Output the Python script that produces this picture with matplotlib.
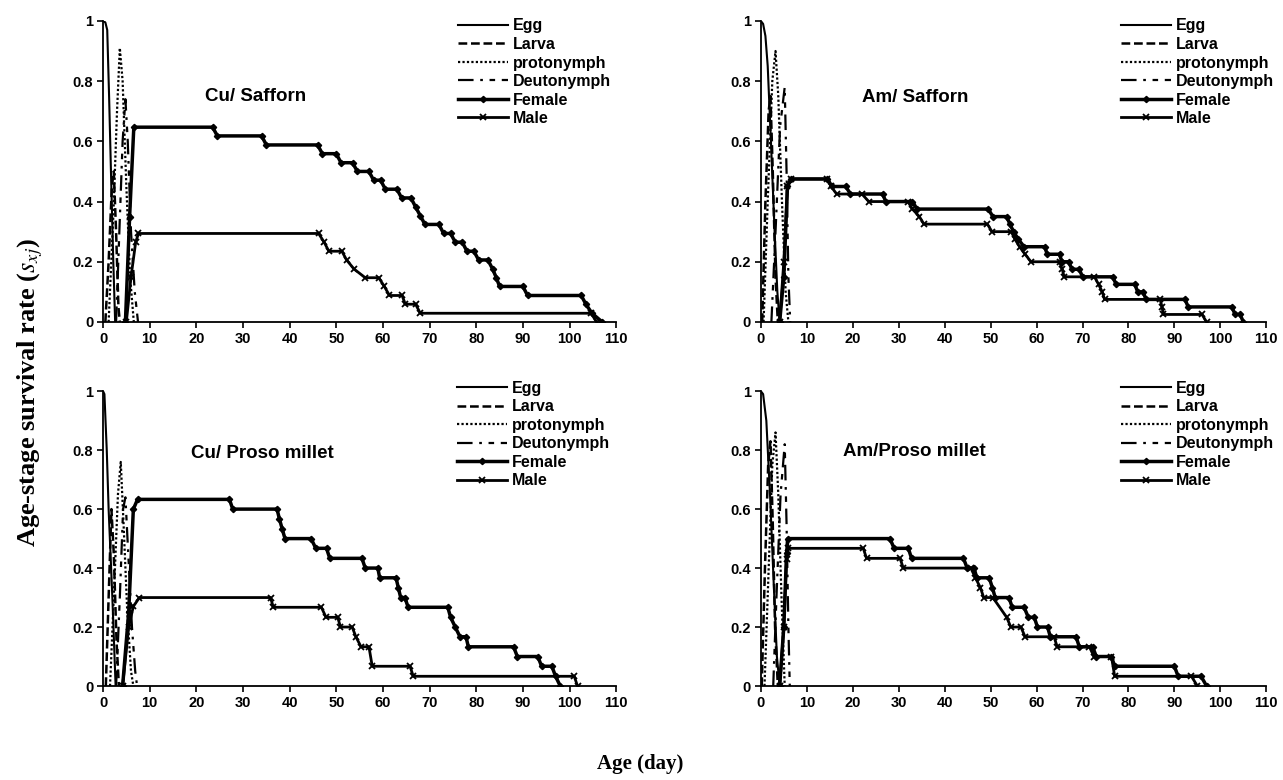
import matplotlib
matplotlib.use("Agg")
import matplotlib.pyplot as plt

# age-stage survival (s_xj), (age in days, s_xj)
# Cu / Safforn
cs_egg = [(0, 1.0), (0.5, 0.995), (0.9, 0.97), (1.3, 0.75), (1.7, 0.5), (2.2, 0.2), (2.6, 0.0)]
cs_larva = [(0.5, 0.0), (1.2, 0.2), (1.9, 0.45), (2.3, 0.5), (2.8, 0.3), (3.3, 0.05), (3.6, 0.0)]
cs_proto = [(1.2, 0.0), (2.2, 0.35), (3.0, 0.7), (3.6, 0.91), (4.2, 0.8), (5.0, 0.45), (5.8, 0.15), (6.6, 0.0)]
cs_deuto = [(2.8, 0.0), (3.5, 0.3), (4.2, 0.6), (4.8, 0.74), (5.3, 0.6), (6.0, 0.3), (6.8, 0.1), (7.5, 0.0)]
cs_female = [(4.8, 0.0), (5.7, 0.35), (6.6, 0.647), (23.5, 0.647), (24.5, 0.618), (34, 0.618), (35, 0.588),
             (46, 0.588), (47, 0.559), (50, 0.559), (51, 0.529), (53.5, 0.529), (54.5, 0.5), (57, 0.5),
             (58, 0.471), (59.5, 0.471), (60.5, 0.441), (63, 0.441), (64, 0.412), (66, 0.412), (67, 0.382),
             (68, 0.353), (69, 0.324), (72, 0.324), (73, 0.294), (74.5, 0.294), (75.5, 0.265), (77, 0.265),
             (78, 0.235), (79.5, 0.235), (80.5, 0.206), (82.5, 0.206), (83.5, 0.176), (84.3, 0.147),
             (85, 0.118), (90, 0.118), (91, 0.088), (102.5, 0.088), (103.5, 0.059), (104.8, 0.029), (107, 0.0)]
cs_male = [(5.0, 0.0), (6.0, 0.15), (7.0, 0.265), (7.6, 0.294), (46.2, 0.294), (47.4, 0.265), (48.4, 0.235),
           (51.2, 0.235), (52.2, 0.206), (53.8, 0.176), (56.2, 0.147), (59.1, 0.147), (60.3, 0.118),
           (61.4, 0.088), (64.1, 0.088), (64.8, 0.059), (67, 0.059), (68, 0.029), (104.6, 0.029), (105.8, 0.0)]

# Am / Safforn
as_egg = [(0, 1.0), (0.5, 0.99), (1.0, 0.95), (1.5, 0.85), (2.2, 0.6), (3.0, 0.3), (3.6, 0.1), (4.1, 0.0)]
as_larva = [(0.3, 0.0), (1.0, 0.4), (1.7, 0.7), (2.1, 0.75), (2.6, 0.5), (3.2, 0.15), (3.7, 0.0)]
as_proto = [(0.6, 0.0), (1.5, 0.4), (2.5, 0.8), (3.2, 0.9), (3.8, 0.75), (4.6, 0.4), (5.4, 0.1), (6.0, 0.0)]
as_deuto = [(2.3, 0.0), (3.2, 0.3), (4.2, 0.65), (5.2, 0.78), (5.6, 0.5), (6.0, 0.15), (6.4, 0.0)]
as_female = [(4.1, 0.0), (5.0, 0.15), (5.8, 0.45), (6.6, 0.475), (14.5, 0.475), (15.5, 0.45), (18.5, 0.45),
             (19.5, 0.425), (26.5, 0.425), (27.2, 0.4), (33, 0.4), (34, 0.375), (49.5, 0.375), (50.5, 0.35),
             (53.5, 0.35), (54.2, 0.325), (55, 0.3), (56, 0.275), (57.3, 0.25), (61.8, 0.25), (62.3, 0.225),
             (65, 0.225), (65.5, 0.2), (67, 0.2), (67.7, 0.175), (69.3, 0.175), (70, 0.15), (76.6, 0.15),
             (77.3, 0.125), (81.4, 0.125), (82, 0.1), (83.2, 0.1), (83.8, 0.075), (92.3, 0.075), (93, 0.05),
             (102.5, 0.05), (103.2, 0.025), (104.3, 0.025), (105, 0.0)]
as_male = [(4.1, 0.0), (5.0, 0.2), (5.8, 0.45), (6.6, 0.475), (14.5, 0.475), (15.3, 0.45), (16.5, 0.425),
           (22, 0.425), (23.5, 0.4), (32, 0.4), (33, 0.375), (34.5, 0.35), (35.5, 0.325), (49.3, 0.325),
           (50.3, 0.3), (54.5, 0.3), (55.3, 0.275), (56.3, 0.25), (57.5, 0.225), (58.8, 0.2), (65, 0.2),
           (65.6, 0.175), (66, 0.15), (72.6, 0.15), (73.5, 0.125), (74.3, 0.1), (74.8, 0.075), (86.9, 0.075),
           (87.3, 0.05), (87.6, 0.025), (96, 0.025), (97, 0.0)]

# Cu / Proso millet
cp_egg = [(0, 1.0), (0.3, 0.99), (0.8, 0.8), (1.2, 0.6), (2.0, 0.3), (2.7, 0.0)]
cp_larva = [(0.6, 0.0), (1.2, 0.3), (1.8, 0.6), (2.3, 0.45), (2.9, 0.15), (3.4, 0.0)]
cp_proto = [(1.5, 0.0), (2.3, 0.3), (3.2, 0.65), (3.8, 0.76), (4.4, 0.55), (5.2, 0.25), (6.0, 0.05), (6.5, 0.0)]
cp_deuto = [(2.8, 0.0), (3.6, 0.3), (4.3, 0.6), (4.8, 0.64), (5.4, 0.45), (6.2, 0.2), (6.9, 0.05), (7.3, 0.0)]
cp_female = [(4.2, 0.0), (5.5, 0.25), (6.5, 0.6), (7.4, 0.633), (27.1, 0.633), (27.8, 0.6), (37.3, 0.6),
             (37.8, 0.567), (38.4, 0.533), (39, 0.5), (44.6, 0.5), (45.6, 0.467), (47.9, 0.467),
             (48.6, 0.433), (55.5, 0.433), (56.2, 0.4), (58.9, 0.4), (59.3, 0.367), (62.8, 0.367),
             (63.3, 0.333), (63.8, 0.3), (64.7, 0.3), (65.4, 0.267), (73.9, 0.267), (74.5, 0.233),
             (75.5, 0.2), (76.5, 0.167), (77.8, 0.167), (78.3, 0.133), (88, 0.133), (88.8, 0.1), (93.2, 0.1),
             (94, 0.067), (96.2, 0.067), (97, 0.033), (98, 0.0)]
cp_male = [(4.2, 0.0), (5.5, 0.2), (6.5, 0.27), (7.8, 0.3), (35.9, 0.3), (36.5, 0.267), (46.8, 0.267),
           (47.8, 0.233), (50.3, 0.233), (50.9, 0.2), (53.4, 0.2), (54.2, 0.167), (55.3, 0.133), (57, 0.133),
           (57.7, 0.067), (65.8, 0.067), (66.5, 0.033), (101, 0.033), (101.7, 0.0)]

# Am / Proso millet
ap_egg = [(0, 1.0), (0.5, 0.99), (1.2, 0.9), (2.0, 0.65), (2.8, 0.35), (3.5, 0.1), (4.1, 0.0)]
ap_larva = [(0.2, 0.0), (0.9, 0.4), (1.6, 0.75), (2.1, 0.83), (2.6, 0.55), (3.1, 0.2), (3.7, 0.0)]
ap_proto = [(0.8, 0.0), (1.6, 0.35), (2.5, 0.75), (3.2, 0.86), (3.8, 0.65), (4.5, 0.3), (5.2, 0.0)]
ap_deuto = [(2.7, 0.0), (3.4, 0.3), (4.3, 0.65), (5.2, 0.82), (5.6, 0.55), (6.0, 0.2), (6.3, 0.0)]
ap_female = [(4.1, 0.0), (5.0, 0.2), (5.6, 0.45), (5.9, 0.5), (28.1, 0.5), (29, 0.467), (32.1, 0.467),
             (32.8, 0.433), (44.1, 0.433), (44.9, 0.4), (46.4, 0.4), (47, 0.367), (49.7, 0.367),
             (50.4, 0.333), (51, 0.3), (54, 0.3), (54.7, 0.267), (57.3, 0.267), (58.2, 0.233), (59.5, 0.233),
             (60.2, 0.2), (62.4, 0.2), (63, 0.167), (68.6, 0.167), (69.3, 0.133), (72.2, 0.133), (73, 0.1),
             (76.3, 0.1), (77, 0.067), (90, 0.067), (90.8, 0.033), (95.8, 0.033), (97, 0.0)]
ap_male = [(4.1, 0.0), (5.0, 0.2), (5.6, 0.43), (5.9, 0.467), (22.3, 0.467), (23, 0.433), (30.3, 0.433),
           (31, 0.4), (45.7, 0.4), (46.7, 0.367), (47.8, 0.333), (48.5, 0.3), (50.5, 0.3), (53.5, 0.233),
           (54.4, 0.2), (56.6, 0.2), (57.5, 0.167), (63.8, 0.167), (64.5, 0.133), (71.5, 0.133),
           (72.5, 0.1), (76.3, 0.1), (77, 0.033), (93.7, 0.033), (95, 0.0)]

stage_names = ["Egg", "Larva", "protonymph", "Deutonymph", "Female", "Male"]
x_ticks = list(range(0, 111, 10))
y_ticks = [0, 0.2, 0.4, 0.6, 0.8, 1]
y_ticklabels = ["0", "0.2", "0.4", "0.6", "0.8", "1"]

panels = [
    # title, title pos (data), legend anchor (axes), axes rect, series
    ("Cu/ Safforn", (32.8, 0.75), (0.692, 1.008), [0.0803, 0.5872, 0.400, 0.386],
     [cs_egg, cs_larva, cs_proto, cs_deuto, cs_female, cs_male]),
    ("Am/ Safforn", (33.5, 0.744), (0.713, 1.008), [0.593, 0.5872, 0.394, 0.386],
     [as_egg, as_larva, as_proto, as_deuto, as_female, as_male]),
    ("Cu/ Proso millet", (34.1, 0.79), (0.69, 1.035), [0.0803, 0.1205, 0.400, 0.378],
     [cp_egg, cp_larva, cp_proto, cp_deuto, cp_female, cp_male]),
    ("Am/Proso millet", (33.5, 0.795), (0.713, 1.035), [0.593, 0.1205, 0.394, 0.378],
     [ap_egg, ap_larva, ap_proto, ap_deuto, ap_female, ap_male]),
]

styles = [
    dict(ls="-", lw=1.5),
    dict(ls=(0, (3.5, 1.5)), lw=1.8),
    dict(ls=(0, (1, 1)), lw=1.6),
    dict(ls=(0, (7, 3, 1.2, 3, 2.5, 3)), lw=1.6),
    dict(ls="-", lw=2.5, marker="D", ms=3.2),
    dict(ls="-", lw=2.0, marker="x", ms=4, mew=1.3),
]

fig = plt.figure(figsize=(12.83, 7.8), dpi=100)
bold_sans = dict(family="Liberation Sans", weight="bold")

for title, tpos, lpos, rect, series in panels:
    ax = fig.add_axes(rect)
    for name, pts, st in zip(stage_names, series, styles):
        ax.plot([p[0] for p in pts], [p[1] for p in pts], color="black", label=name, **st)
    ax.set_xlim(0, 110)
    ax.set_ylim(0, 1)
    ax.set_xticks(x_ticks)
    ax.set_yticks(y_ticks)
    ax.set_yticklabels(y_ticklabels)
    for sp in ["top", "right"]:
        ax.spines[sp].set_visible(False)
    for sp in ["left", "bottom"]:
        ax.spines[sp].set_linewidth(1.3)
    ax.tick_params(direction="out", length=4, width=1.2, labelsize=10.5, pad=3)
    for lab in ax.get_xticklabels() + ax.get_yticklabels():
        lab.set_fontfamily("Liberation Sans")
        lab.set_fontweight("bold")
    ax.text(tpos[0], tpos[1], title, ha="center", va="center", fontsize=13.5, **bold_sans)
    ax.legend(loc="upper left", bbox_to_anchor=lpos, frameon=False, borderpad=0,
              handlelength=3.1, handletextpad=0.3, labelspacing=0.22, borderaxespad=0,
              prop=dict(family="Liberation Sans", weight="bold", size=11.5))

plt.rcParams["mathtext.fontset"] = "stix"
fig.text(0.024, 0.497, r"Age-stage survival rate ($\mathit{s}_{\mathit{xj}}$)", rotation=90,
         ha="center", va="center", fontsize=19, family="Liberation Serif", weight="bold")
fig.text(0.499, 0.02, "Age (day)", ha="center", va="center", fontsize=15,
         family="Liberation Serif", weight="bold")

fig.savefig("out.png", dpi=100)
